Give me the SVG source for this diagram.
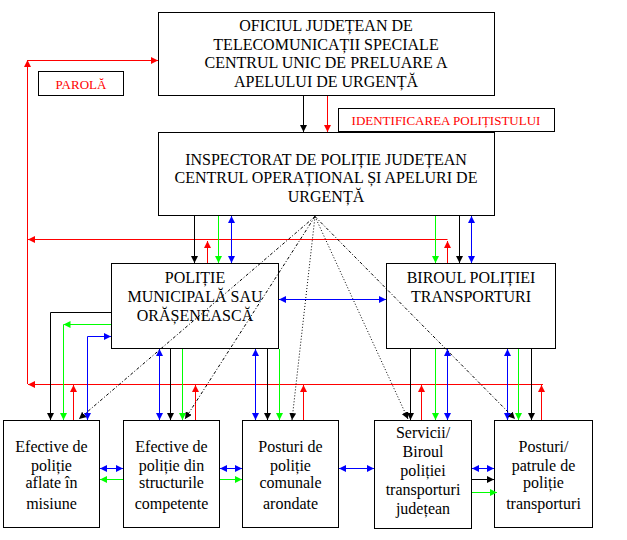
<svg xmlns="http://www.w3.org/2000/svg" width="627" height="540" viewBox="0 0 627 540">
<style>
.box{fill:#fff;stroke:#000;stroke-width:1}
.t{font-size:16px;fill:#000;text-anchor:middle}
.tr{font-size:13px;fill:#f00;text-anchor:middle}
.k{stroke:#000;stroke-width:1;fill:none;marker-end:url(#ak)}
.r{stroke:#f00;stroke-width:1;fill:none;marker-end:url(#ar)}
.g{stroke:#0f0;stroke-width:1;fill:none;marker-end:url(#ag)}
.b{stroke:#00f;stroke-width:1;fill:none;marker-end:url(#ab);marker-start:url(#ab)}
.d{stroke:#000;stroke-width:1;fill:none;stroke-dasharray:1,2;marker-end:url(#ak)}
.dd{stroke:#000;stroke-width:1;fill:none;stroke-dasharray:3,2,1,2;marker-end:url(#ak)}
.plain-r{stroke:#f00;stroke-width:1;fill:none}
</style>
<defs>
<marker id="ak" markerUnits="userSpaceOnUse" markerWidth="7" markerHeight="7" refX="7" refY="3.5" orient="auto-start-reverse"><path d="M0,0 L7,3.5 L0,7 z" fill="#000"/></marker>
<marker id="ar" markerUnits="userSpaceOnUse" markerWidth="7" markerHeight="7" refX="7" refY="3.5" orient="auto-start-reverse"><path d="M0,0 L7,3.5 L0,7 z" fill="#f00"/></marker>
<marker id="ag" markerUnits="userSpaceOnUse" markerWidth="7" markerHeight="7" refX="7" refY="3.5" orient="auto-start-reverse"><path d="M0,0 L7,3.5 L0,7 z" fill="#0f0"/></marker>
<marker id="ab" markerUnits="userSpaceOnUse" markerWidth="7" markerHeight="7" refX="7" refY="3.5" orient="auto-start-reverse"><path d="M0,0 L7,3.5 L0,7 z" fill="#00f"/></marker>
</defs>
<rect width="627" height="540" fill="#fff"/>
<g font-family="'Liberation Serif', 'Times New Roman', Times, 'DejaVu Serif', serif">

<g id="n1"><rect class="box" x="158.5" y="12.5" width="336" height="83"/>
<text class="t" x="326" y="31">OFICIUL JUDEȚEAN DE</text>
<text class="t" x="326" y="49.5">TELECOMUNICAȚII SPECIALE</text>
<text class="t" x="326" y="68">CENTRUL UNIC DE PRELUARE A</text>
<text class="t" x="326" y="87">APELULUI DE URGENȚĂ</text></g>

<g id="parola"><rect class="box" x="38.5" y="71.5" width="85" height="24"/>
<text class="tr" x="81" y="89">PAROLĂ</text></g>

<g id="ident"><rect class="box" x="338.5" y="108.5" width="216" height="23"/>
<text class="tr" x="446" y="125">IDENTIFICAREA POLIȚISTULUI</text></g>

<g id="n2"><rect class="box" x="158.5" y="132.5" width="336" height="83"/>
<text class="t" x="326" y="164.5">INSPECTORAT DE POLIȚIE JUDEȚEAN</text>
<text class="t" x="326" y="183">CENTRUL OPERAȚIONAL ȘI APELURI DE</text>
<text class="t" x="326" y="201.5">URGENȚĂ</text></g>

<g id="pm"><rect class="box" x="111.5" y="263.5" width="167" height="85"/>
<text class="t" x="195" y="283">POLIȚIE</text>
<text class="t" x="195" y="302">MUNICIPALĂ SAU</text>
<text class="t" x="195" y="321">ORĂȘENEASCĂ</text></g>

<g id="bt"><rect class="box" x="386.5" y="263.5" width="169" height="85"/>
<text class="t" x="471" y="283">BIROUL POLIȚIEI</text>
<text class="t" x="471" y="302">TRANSPORTURI</text></g>

<g id="ba"><rect class="box" x="3.5" y="420.5" width="96" height="107"/>
<text class="t" x="51.5" y="452">Efective de</text>
<text class="t" x="51.5" y="470.5">poliție</text>
<text class="t" x="51.5" y="488">aflate în</text>
<text class="t" x="51.5" y="509">misiune</text></g>

<g id="bb"><rect class="box" x="123.5" y="420.5" width="96" height="107"/>
<text class="t" x="171.5" y="452">Efective de</text>
<text class="t" x="171.5" y="470.5">poliție din</text>
<text class="t" x="171.5" y="488">structurile</text>
<text class="t" x="171.5" y="509">competente</text></g>

<g id="bc"><rect class="box" x="242.5" y="420.5" width="96" height="107"/>
<text class="t" x="290.5" y="452">Posturi de</text>
<text class="t" x="290.5" y="470.5">poliție</text>
<text class="t" x="290.5" y="488">comunale</text>
<text class="t" x="290.5" y="509">arondate</text></g>

<g id="bd"><rect class="box" x="374.5" y="420.5" width="97" height="108"/>
<text class="t" x="423" y="438">Servicii/</text>
<text class="t" x="423" y="457">Biroul</text>
<text class="t" x="423" y="476">poliției</text>
<text class="t" x="423" y="495">transporturi</text>
<text class="t" x="423" y="514">județean</text></g>

<g id="be"><rect class="box" x="494.5" y="420.5" width="98" height="107"/>
<text class="t" x="543.5" y="452">Posturi/</text>
<text class="t" x="543.5" y="470.5">patrule de</text>
<text class="t" x="543.5" y="488">poliție</text>
<text class="t" x="543.5" y="509">transporturi</text></g>
</g>

<g id="connectors">
<path class="k" d="M303.5,96 V132"/>
<path class="r" d="M327.5,96 V132"/>
<path class="plain-r" d="M27.5,384 V66"/>
<path class="r" d="M27.5,120 V60"/>
<path class="r" d="M27.5,60.5 H158"/>
<path class="r" d="M447.5,239.5 H28"/>
<path class="r" d="M543,384.5 H28"/>
<path class="r" d="M207.5,263 V241"/>
<path class="r" d="M447.5,263 V241"/>
<path class="r" d="M73.5,420 V385"/>
<path class="r" d="M195.5,420 V385"/>
<path class="r" d="M303.5,420 V385"/>
<path class="r" d="M421.5,420 V385"/>
<path class="r" d="M541.5,420 V385"/>
<path class="k" d="M194.5,216 V263"/>
<path class="g" d="M218.5,216 V263"/>
<path class="b" d="M231.5,216 V263"/>
<path class="g" d="M435.5,216 V263"/>
<path class="k" d="M459.5,216 V263"/>
<path class="b" d="M471.5,216 V263"/>
<path class="b" d="M279,299.5 H386"/>
<path class="k" d="M111,312.5 H50.5 V420"/>
<path class="g" d="M111,324.5 H63.5"/>
<path class="g" d="M63.5,324.5 V420"/>
<path class="b" d="M87.5,420 V336.5 H111"/>
<path class="b" d="M159.5,349 V420"/>
<path class="k" d="M170.5,349 V420"/>
<path class="g" d="M182.5,349 V420"/>
<path class="b" d="M255.5,349 V420"/>
<path class="k" d="M267.5,349 V420"/>
<path class="g" d="M279.5,349 V420"/>
<path class="k" d="M410.5,349 V420"/>
<path class="g" d="M435.5,349 V420"/>
<path class="b" d="M447.5,349 V420"/>
<path class="b" d="M507.5,349 V420"/>
<path class="g" d="M518.5,349 V420"/>
<path class="k" d="M531.5,349 V420"/>
<path class="dd" d="M315,216.5 L79,419"/>
<path class="dd" d="M315,216.5 L185,419"/>
<path class="d" d="M315,216.5 L292,420"/>
<path class="d" d="M315,216.5 L408,419"/>
<path class="dd" d="M315,216.5 L515,419"/>
<path class="b" d="M100,468.5 H123"/>
<path class="g" d="M123,479.5 H100"/>
<path class="b" d="M220,468.5 H242"/>
<path class="g" d="M220,479.5 H242"/>
<path class="b" d="M339,468.5 H374"/>
<path class="b" d="M472,468.5 H494"/>
<path class="k" d="M472,479.5 H494"/>
<path class="g" d="M472,492.5 H497"/>
</g>
</svg>
